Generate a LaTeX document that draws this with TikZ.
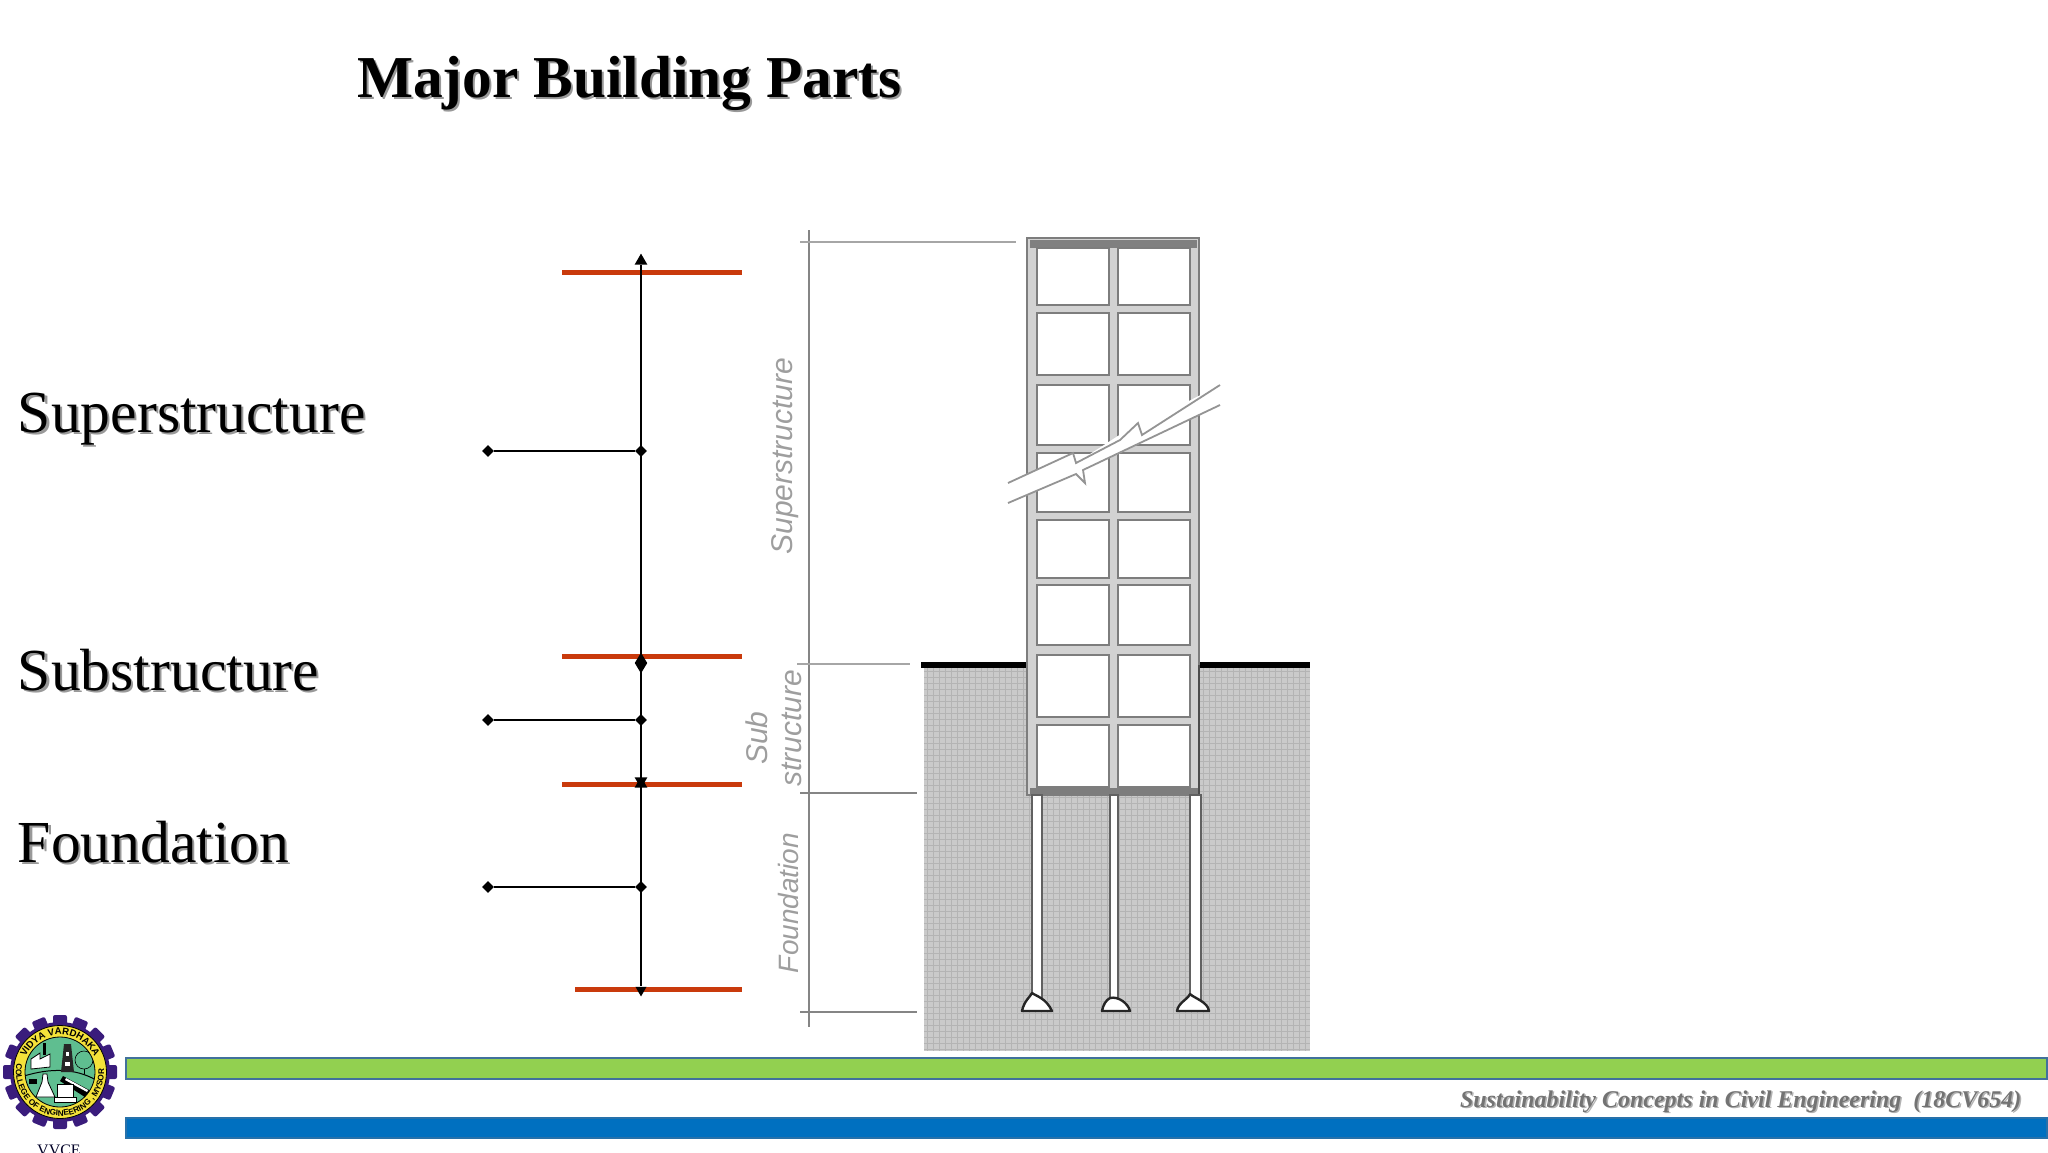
\documentclass[tikz,border=0pt]{standalone}
\usepackage{fontspec}
\setmainfont{Liberation Serif}
\newfontfamily\labsans{Liberation Sans}
\usetikzlibrary{shapes.geometric,decorations.text}
\definecolor{redline}{HTML}{C93A0C}
\definecolor{barg}{HTML}{92D050}
\definecolor{barb}{HTML}{0070C0}
\definecolor{barb2}{HTML}{41719C}
\definecolor{soil}{HTML}{CACACA}
\definecolor{soilg}{HTML}{B4B4B4}
\definecolor{frameg}{HTML}{7D7D7D}
\definecolor{beamg}{HTML}{D2D2D2}
\definecolor{lgear}{HTML}{3A1C7C}
\definecolor{lyel}{HTML}{F4E23A}
\definecolor{lgreen}{HTML}{5FBE90}
\tikzset{
 textbox/.style={inner sep=0pt,outer sep=0pt,anchor=base west},
 redbar/.style={draw=redline,line width=2.5pt},
 axisline/.style={draw=black,line width=1.3pt},
 dia/.style={diamond,fill=black,draw=none,minimum width=6pt,minimum height=6pt,inner sep=0pt},
 bigdia/.style={diamond,fill=black,draw=none,minimum width=6.4pt,minimum height=10.5pt,inner sep=0pt},
 tri/.style={regular polygon,regular polygon sides=3,fill=black,inner sep=0pt,minimum size=7.4pt},
 dim/.style={draw=black!48,line width=.8pt},
 rotlab/.style={rotate=90,text=black!38,font=\labsans\itshape\fontsize{15}{16}\selectfont,inner sep=0pt},
 panel/.style={fill=white,draw=frameg,line width=.9pt},
 pile/.style={fill=white,draw=black!62,line width=.9pt},
 footing/.style={fill=white,draw=black!85,line width=1.2pt,line join=round},
 ctext/.style={inner sep=0pt},
 bar/.style={draw=barb2,line width=.8pt},
}
\begin{document}
\begin{tikzpicture}[x=0.5pt,y=-0.5pt]
\useasboundingbox (0,0) rectangle (2048,1152);
% Titles
\node[textbox,text=black!40] at (359,99.5) {\fontsize{29.7}{32}\selectfont\bfseries Major Building Parts};
\node[textbox] (title) at (357,97) {\fontsize{29.7}{32}\selectfont\bfseries Major Building Parts};
\node[textbox,text=black!40] at (20,434.5) {\fontsize{29.8}{32}\selectfont Superstructure};
\node[textbox] (sup) at (18,432) {\fontsize{29.8}{32}\selectfont Superstructure};
\node[textbox,text=black!40] at (20,692.5) {\fontsize{29.8}{32}\selectfont Substructure};
\node[textbox] (sub) at (18,690) {\fontsize{29.8}{32}\selectfont Substructure};
\node[textbox,text=black!40] at (20,864.5) {\fontsize{29.8}{32}\selectfont Foundation};
\node[textbox] (fou) at (18,862) {\fontsize{29.8}{32}\selectfont Foundation};
% Red level lines
\coordinate (r1a) at (562,272); \coordinate (r1b) at (742,272);
\coordinate (r2a) at (562,656); \coordinate (r2b) at (742,656);
\coordinate (r3a) at (562,784); \coordinate (r3b) at (742,784);
\coordinate (r4a) at (575,989); \coordinate (r4b) at (742,989);
\draw[redbar] (r1a) -- (r1b);
\draw[redbar] (r2a) -- (r2b);
\draw[redbar] (r3a) -- (r3b);
\draw[redbar] (r4a) -- (r4b);
% Axis
\node[tri] (atop) at (641,261) {};
\node[tri,minimum size=6.4pt,shape border rotate=180] (abot) at (641,990) {};
\draw[axisline] (atop) -- (abot);
\node[bigdia] (big) at (641,663) {};
\node[tri] (s1) at (641,784) {};
\node[tri,shape border rotate=180] (s2) at (641,781) {};
\node[dia] (d1r) at (641,451) {}; \node[dia] (d1l) at (488,451) {};
\node[dia] (d2r) at (641,720) {}; \node[dia] (d2l) at (488,720) {};
\node[dia] (d3r) at (641,887) {}; \node[dia] (d3l) at (488,887) {};
\draw[axisline] (d1l) -- (d1r);
\draw[axisline] (d2l) -- (d2r);
\draw[axisline] (d3l) -- (d3r);
% Soil
\fill[soil] (924,668) rectangle (1310,1051);
\foreach \x in {927,933,...,1308} \draw[soilg,line width=.35pt] (\x,668) -- (\x,1051);
\foreach \y in {671,677,...,1050} \draw[soilg,line width=.35pt] (924,\y) -- (1310,\y);
\draw[black,line width=2.6pt] (921,665) -- (1030,665);
\draw[black,line width=2.6pt] (1199,665) -- (1310,665);
% Frame
\fill[beamg] (1027,238) rectangle (1199,795);
\draw[frameg,line width=1.1pt] (1027,238) rectangle (1199,795);
\fill[black!50] (1030,240) rectangle (1197,248);
\foreach \ya/\yb in {248/305,313/375,385/445,453/512,520/578,585/645,655/717,725/787}{
 \draw[panel] (1037,\ya) rectangle (1109,\yb);
 \draw[panel] (1118,\ya) rectangle (1190,\yb);
}
\fill[frameg] (1030,788) rectangle (1199,795);
\draw[black!70,line width=1pt] (1199,665) -- (1199,795);
% Piles
\foreach \xa/\xb in {1032/1042,1110/1118,1190/1201}
 \draw[pile] (\xa,795) rectangle (\xb,1000);
\draw[footing] (1032,993) .. controls (1036,996) and (1046,998) .. (1052,1011) -- (1022,1011) .. controls (1024,1001) and (1030,997) .. (1032,993) -- cycle;
\draw[footing] (1110,998) .. controls (1118,996) and (1128,1003) .. (1130,1011) -- (1102,1011) .. controls (1103,1005) and (1106,1000) .. (1110,998) -- cycle;
\draw[footing] (1190,994) .. controls (1194,998) and (1208,1002) .. (1209,1011) -- (1177,1011) .. controls (1178,1003) and (1188,999) .. (1190,994) -- cycle;
% Break band
\fill[white] (1008,483) -- (1073,453) -- (1076,463) -- (1138,423) -- (1142,425) -- (1220,385) -- (1220,405) -- (1120,453) -- (1083,470) -- (1085,483) -- (1076,474) -- (1008,503) -- cycle;
\draw[black!42,line width=.9pt] (1008,483) -- (1073,453) -- (1076,463) -- (1120,440) -- (1138,423) -- (1142,435) -- (1220,385);
\draw[black!42,line width=.9pt] (1008,503) -- (1076,474) -- (1085,483) -- (1083,470) -- (1220,405);
% Dimension
\coordinate (dt) at (809,230); \coordinate (db) at (809,1027);
\draw[dim] (dt) -- (db);
\coordinate (h1a) at (800,242); \coordinate (h1b) at (1016,242);
\coordinate (h2a) at (797,664); \coordinate (h2b) at (910,664);
\coordinate (h3a) at (800,793); \coordinate (h3b) at (917,793);
\coordinate (h4a) at (800,1012); \coordinate (h4b) at (917,1012);
\draw[dim,black!35,line width=1pt] (h1a) -- (h1b);
\draw[dim,black!35,line width=1pt] (h2a) -- (h2b);
\draw[dim] (h3a) -- (h3b);
\draw[dim] (h4a) -- (h4b);
\node[rotlab] (l1) at (785,456) {Superstructure};
\node[rotlab] (l2) at (757,738) {Sub};
\node[rotlab] (l3) at (792,728) {structure};
\node[rotlab,font=\labsans\itshape\fontsize{14}{16}\selectfont] (l4) at (788,903) {Foundation};
% Footer bars
\draw[bar,fill=barg] (126,1058) rectangle (2047,1079);
\draw[bar,fill=barb,draw=barb2!60!barb] (126,1118) rectangle (2047,1138);
\node[textbox,text=black!30] at (1461.5,1108.5) {\fontsize{12}{14}\selectfont\bfseries\itshape Sustainability Concepts in Civil Engineering\ \ (18CV654)};
\node[textbox,text=black!55] (foot) at (1460,1107) {\fontsize{12}{14}\selectfont\bfseries\itshape Sustainability Concepts in Civil Engineering\ \ (18CV654)};
% Logo
\begin{scope}[shift={(60,1072)},x=0.5pt,y=0.5pt]
 \foreach \a in {0,22.5,...,337.5}
  \fill[lgear,rotate=\a,rounded corners=1pt] (-7,44) rectangle (7,57);
 \fill[lgear] (0,0) circle (50);
 \fill[lyel,draw=black,line width=.4pt] (0,0) circle (46.5);
 \fill[lgreen,draw=black,line width=.4pt] (0,0) circle (35);
 \begin{scope}
  \clip (0,0) circle (35);
  \draw[black,line width=.5pt] (-36,-4) .. controls (-10,4) and (15,4) .. (36,-8);
  \fill[black] (3,-4) -- (33,-20) -- (28,-27) -- (0,-9) -- cycle;
  \fill[white] (6,-6) -- (28,-18) -- (27,-20) -- (5,-8) -- cycle;
  \fill[white,draw=black,line width=.4pt] (-29,3) -- (-29,13) -- (-20,19) -- (-20,13) -- (-10,18) -- (-10,5) -- cycle;
  \fill[black] (-17,17) rectangle (-14,29);
  \fill[black!85] (1,0) -- (4,28) -- (11,28) -- (14,0) -- cycle;
  \fill[white] (5,6) rectangle (10,10); \fill[white] (6,16) rectangle (9,20);
  \draw[black,line width=.3pt] (24,12) circle (9);
  \draw[black,line width=.5pt] (24,3) -- (24,-2);
  \fill[white,draw=black,line width=.4pt] (-17,-2) -- (-13,-2) -- (-12,-10) -- (-5,-25) -- (-24,-25) -- (-18,-10) -- cycle;
  \fill[white,draw=black,line width=.4pt] (-3,-12) rectangle (13,-25);
  \fill[white,draw=black,line width=.4pt] (-6,-25) rectangle (16,-30);
  \fill[black] (-31,-7) rectangle (-23,-12);
 \end{scope}
 \path[decorate,decoration={text along path,text align=center,text={|\labsans\fontsize{4.8}{5}\selectfont\bfseries|VIDYA VARDHAKA}}]
   (160:37.5) arc[start angle=160,end angle=20,radius=37.5];
 \path[decorate,decoration={text along path,text align=center,text={|\labsans\fontsize{4.1}{5}\selectfont\bfseries|COLLEGE OF ENGINEERING , MYSORE}}]
   (175:44) arc[start angle=175,end angle=365,radius=44];
\end{scope}
\node[ctext,text=black!85!blue,anchor=base] (vvce) at (59,1155) {\fontsize{8}{9}\selectfont VVCE};
\end{tikzpicture}
\end{document}
